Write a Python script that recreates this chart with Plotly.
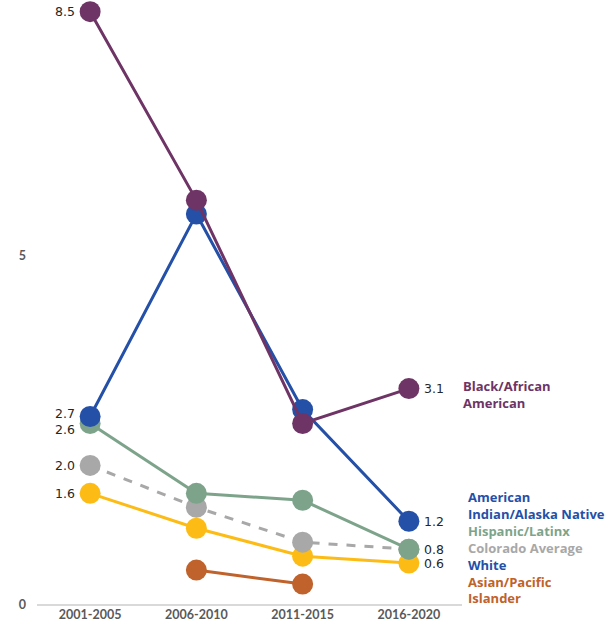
import plotly.graph_objects as go

periods = ["2001-2005", "2006-2010", "2011-2015", "2016-2020"]
black = [8.5, 5.8, 2.6, 3.1]
aian = [2.7, 5.6, 2.8, 1.2]
hispanic = [2.6, 1.6, 1.5, 0.8]
colorado = [2.0, 1.4, 0.9, 0.8]
white = [1.6, 1.1, 0.7, 0.6]
asian = [None, 0.5, 0.3, None]

series = [
    ("Black/African American", black, "#6E3465", "solid"),
    ("American Indian/Alaska Native", aian, "#2450A8", "solid"),
    ("Hispanic/Latinx", hispanic, "#7DA48B", "solid"),
    ("Colorado Average", colorado, "#A8A8A8", "dash"),
    ("White", white, "#FDBC15", "solid"),
    ("Asian/Pacific Islander", asian, "#C0622B", "solid"),
]

FONT = "DejaVu Sans"
LFONT = "Lato"
NFONT = "Open Sans"
fig = go.Figure()
for name, vals, col, dash in reversed(series):
    fig.add_trace(go.Scatter(
        x=periods, y=vals, name=name, mode="lines+markers",
        line=dict(color=col, width=3, dash=dash),
        marker=dict(color=col, size=21),
        connectgaps=False, cliponaxis=False, showlegend=False,
    ))

annotations = []
left_shift = {"American Indian/Alaska Native": 3, "Hispanic/Latinx": -6}
for name, vals, col, dash in series:
    if vals[0] is not None:
        annotations.append(dict(
            x=periods[0], y=vals[0], xref="x", yref="y", text=f"{vals[0]:.1f}",
            showarrow=False, xanchor="right", xshift=-13,
            yshift=left_shift.get(name, 0),
            font=dict(family=FONT, size=12.5, color="#262626")))
for name, vals, col, dash in series:
    if vals[-1] is not None and name != "Colorado Average":
        annotations.append(dict(
            x=periods[-1], y=vals[-1], xref="x", yref="y", text=f"{vals[-1]:.1f}",
            showarrow=False, xanchor="left", xshift=13,
            font=dict(family=FONT, size=12.5, color="#262626")))

annotations.append(dict(
    x=1.0, xref="paper", xshift=-1, y=3.02, yref="y",
    text="<b>Black/African<br>American</b>", showarrow=False, xanchor="left", align="left",
    font=dict(family=NFONT, size=13, color="#6E3465")))
stack = "<br>".join([
    "<span style='color:#2450A8'>American</span>",
    "<span style='color:#2450A8'>Indian/Alaska Native</span>",
    "<span style='color:#7DA48B'>Hispanic/Latinx</span>",
    "<span style='color:#A8A8A8'>Colorado Average</span>",
    "<span style='color:#2450A8'>White</span>",
    "<span style='color:#C0622B'>Asian/Pacific</span>",
    "<span style='color:#C0622B'>Islander</span>",
])
annotations.append(dict(
    x=1.0, xref="paper", xshift=4, y=0.83, yref="y",
    text="<b>" + stack + "</b>", showarrow=False, xanchor="left", align="left",
    font=dict(family=NFONT, size=13)))

fig.update_layout(
    width=606, height=630,
    margin=dict(l=37, r=144, t=0, b=25),
    plot_bgcolor="white", paper_bgcolor="white",
    font=dict(family=FONT, size=12, color="#595959"),
    annotations=annotations,
    xaxis=dict(type="category", range=[-0.5, 3.5], showgrid=False,
               showline=False, ticks="", tickfont=dict(family=LFONT, size=12.5, color="#595959", weight="bold"),
               fixedrange=True),
    yaxis=dict(range=[0, 8.667], tickvals=[0, 5], showgrid=False,
               zeroline=True, zerolinecolor="#D9D9D9", zerolinewidth=1.5,
               showline=False, ticks="", ticklabelstandoff=10,
               tickfont=dict(family=LFONT, size=12.5, color="#595959", weight="bold")),
)
fig.write_html("out.html", config={"displayModeBar": False},
               post_script="document.body.style.margin='0';")
